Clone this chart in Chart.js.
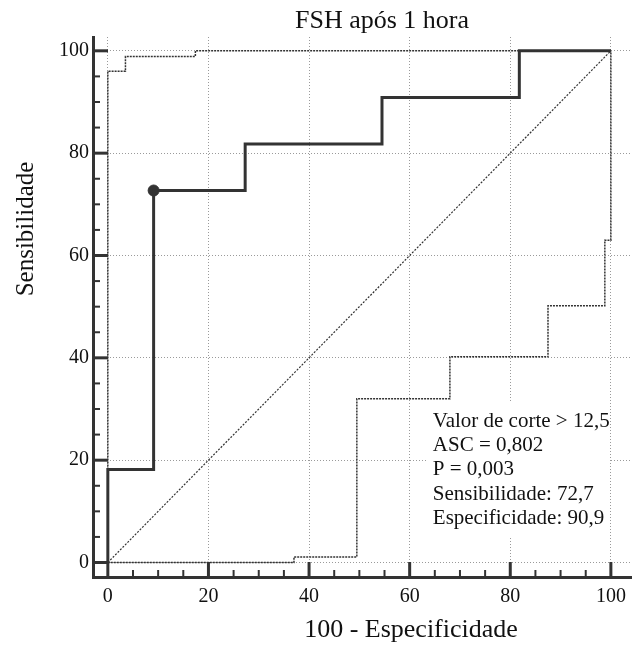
<!DOCTYPE html>
<html>
<head>
<meta charset="utf-8">
<title>FSH após 1 hora</title>
<script src="https://cdn.jsdelivr.net/npm/chart.js@4.4.0/dist/chart.umd.min.js"></script>
<style>
  html, body { margin: 0; padding: 0; background: #fff; }
  #chart { display: block; }
</style>
</head>
<body>
<canvas id="chart" width="638" height="648"></canvas>
<script>
// ROC CURVE (100 - specificity, sensitivity) at each step corner
const rocX = [0, 9.1, 27.3, 54.5, 81.8, 100];
const rocY = [0, 18.2, 72.7, 81.8, 90.9, 100];

// 95% confidence band, upper and lower
const upperX = [0, 3.5, 17.4, 100];
const upperY = [0, 96, 98.9, 100];
const lowerX = [0, 37, 49.5, 68, 87.5, 98.8, 100];
const lowerY = [0, 1.1, 32, 40.2, 50.2, 63, 100];

// reference diagonal
const diagX = [0, 100];
const diagY = [0, 100];

// optimal cut-off point
const cutoffX = [9.1];
const cutoffY = [72.7];

const tickValues = [0, 20, 40, 60, 80, 100];
const minorStep = 5;

const chartTitle = "FSH após 1 hora";
const xTitle = "100 - Especificidade";
const yTitle = "Sensibilidade";
const statLines = [
  "Valor de corte > 12,5",
  "ASC = 0,802",
  "P = 0,003",
  "Sensibilidade: 72,7",
  "Especificidade: 90,9",
];

const toPoints = (xs, ys) => xs.map((x, i) => ({ x: x, y: ys[i] }));

const ink = "#333";
const serif = "'Liberation Serif', 'Times New Roman', serif";

// inward tick marks, titles and the stats box
const decorations = {
  id: "decorations",
  beforeDatasetsDraw(chart) {
    const { ctx, chartArea, scales } = chart;
    const x = scales.x;
    const y = scales.y;

    // white box behind the stats text
    ctx.save();
    ctx.fillStyle = "#fff";
    const bx1 = x.getPixelForValue(63.3);
    const bx2 = x.getPixelForValue(99.8);
    const by1 = y.getPixelForValue(31.2);
    const by2 = y.getPixelForValue(5.0);
    ctx.fillRect(bx1, by1, bx2 - bx1, by2 - by1);
    ctx.restore();

    // tick marks pointing into the plot
    ctx.save();
    ctx.strokeStyle = ink;
    for (let v = 0; v <= 100; v += minorStep) {
      const major = v % 20 === 0;
      const len = major ? 15 : 7;
      ctx.lineWidth = major ? 3 : 2;
      const py = y.getPixelForValue(v);
      ctx.beginPath();
      ctx.moveTo(chartArea.left, py);
      ctx.lineTo(chartArea.left + len, py);
      ctx.stroke();
      const px = x.getPixelForValue(v);
      ctx.beginPath();
      ctx.moveTo(px, chartArea.bottom);
      ctx.lineTo(px, chartArea.bottom - len);
      ctx.stroke();
    }
    ctx.restore();
  },
  afterDraw(chart) {
    const { ctx, scales } = chart;
    const x = scales.x;
    const y = scales.y;
    ctx.save();
    ctx.fillStyle = "#111";
    ctx.textBaseline = "alphabetic";

    // stats text
    ctx.font = "21px " + serif;
    ctx.textAlign = "left";
    const tx = x.getPixelForValue(64.6);
    const ty = y.getPixelForValue(26.5);
    statLines.forEach((line, i) => {
      ctx.fillText(line, tx, ty + i * 24.2);
    });

    // titles
    ctx.textAlign = "center";
    ctx.font = "26px " + serif;
    ctx.fillText(chartTitle, 382, 28);
    ctx.fillText(xTitle, 411, 637);

    ctx.translate(33, 229);
    ctx.rotate(-Math.PI / 2);
    ctx.font = "25px " + serif;
    ctx.fillText(yTitle, 0, 0);
    ctx.restore();
  },
};

const setTicks = (scale) => {
  scale.ticks = tickValues.map((v) => ({ value: v }));
};

const axisCommon = {
  type: "linear",
  afterBuildTicks: setTicks,
  grid: {
    color: "#9a9a9a",
    lineWidth: 1,
    drawTicks: false,
  },
  border: {
    display: true,
    color: ink,
    width: 3,
    dash: [1, 2],
  },
};

const chart = document.querySelector("#chart").getContext("2d");

// note: in Chart.js "after" goes up first, "before" goes across first
new Chart(chart, {
  type: "scatter",
  data: {
    datasets: [
      {
        label: "Diagonal",
        data: toPoints(diagX, diagY),
        showLine: true,
        borderColor: ink,
        borderWidth: 1.2,
        borderDash: [2, 1.5],
        pointRadius: 0,
      },
      {
        label: "Limite superior",
        data: toPoints(upperX, upperY),
        showLine: true,
        stepped: "after",
        borderColor: ink,
        borderWidth: 1.5,
        borderDash: [2, 1],
        pointRadius: 0,
      },
      {
        label: "Limite inferior",
        data: toPoints(lowerX, lowerY),
        showLine: true,
        stepped: "before",
        borderColor: ink,
        borderWidth: 1.5,
        borderDash: [2, 1],
        pointRadius: 0,
      },
      {
        label: "Curva ROC",
        data: toPoints(rocX, rocY),
        showLine: true,
        stepped: "after",
        borderColor: ink,
        borderWidth: 3,
        pointRadius: 0,
      },
      {
        label: "Ponto de corte",
        data: toPoints(cutoffX, cutoffY),
        showLine: false,
        pointRadius: 5.5,
        pointBackgroundColor: ink,
        pointBorderColor: ink,
      },
    ],
  },
  options: {
    responsive: false,
    animation: false,
    layout: {
      padding: { top: 37, right: 0, bottom: 0, left: 0 },
    },
    plugins: {
      legend: { display: false },
      title: { display: false },
      tooltip: { enabled: false },
    },
    scales: {
      x: {
        ...axisCommon,
        position: "bottom",
        min: -2.95,
        max: 104.1,
        afterFit: (scale) => {
          scale.height = 71;
        },
        ticks: {
          color: "#111",
          font: { family: serif, size: 20 },
          padding: 8,
          maxRotation: 0,
        },
      },
      y: {
        ...axisCommon,
        position: "left",
        min: -2.83,
        max: 102.7,
        afterFit: (scale) => {
          scale.width = 93;
        },
        ticks: {
          color: "#111",
          font: { family: serif, size: 20 },
          padding: 4,
        },
      },
    },
  },
  plugins: [decorations],
});
</script>
</body>
</html>
